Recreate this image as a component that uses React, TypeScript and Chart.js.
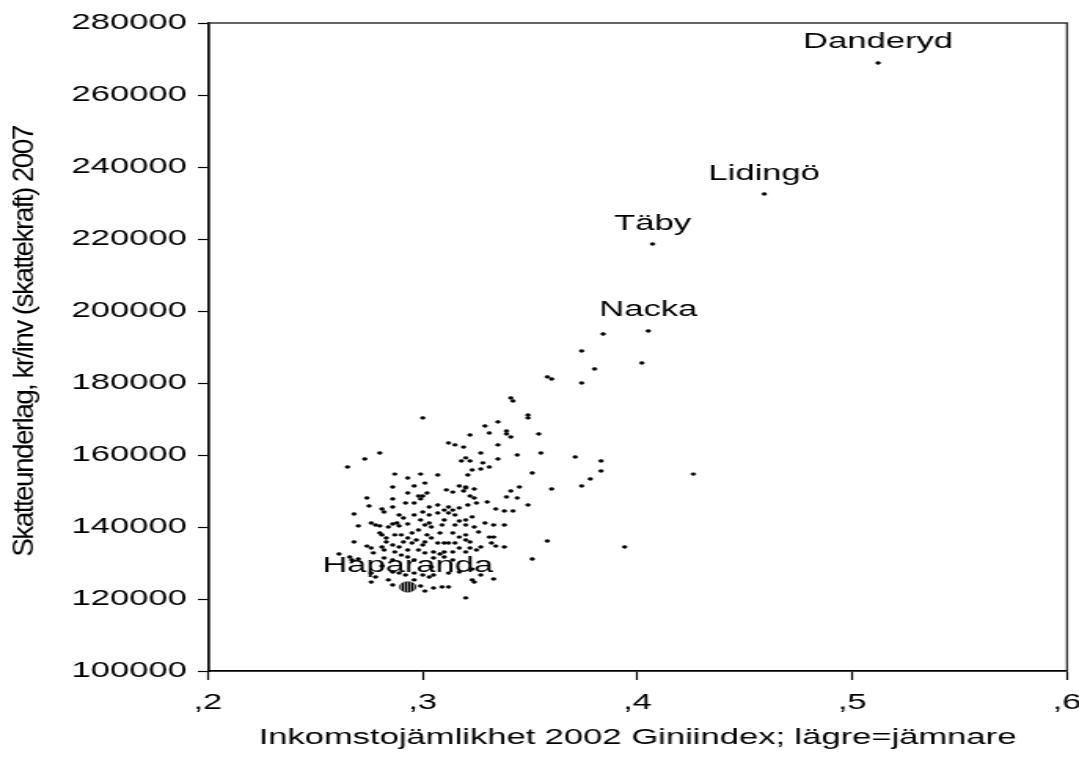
import React, { useEffect, useRef } from 'react';
import { Chart, registerables } from 'chart.js';

Chart.register(...registerables);

// Gini index 2002 (x) and tax base per inhabitant 2007 (y), unlabeled municipalities
const giniX = [
  0.384, 0.374, 0.402, 0.380, 0.358, 0.360, 0.374, 0.341, 0.342, 0.300,
  0.349, 0.349, 0.335, 0.329, 0.322, 0.331, 0.339, 0.339, 0.341, 0.354,
  0.335, 0.312, 0.315, 0.319, 0.327, 0.280, 0.273, 0.265, 0.344, 0.355,
  0.371, 0.383, 0.383, 0.378, 0.374, 0.426, 0.320, 0.318, 0.322, 0.335,
  0.328, 0.327, 0.331, 0.323, 0.321, 0.351, 0.287, 0.293, 0.299, 0.307,
  0.301, 0.296, 0.286, 0.317, 0.320, 0.324, 0.345, 0.360, 0.311, 0.314,
  0.293, 0.302, 0.341, 0.339, 0.344, 0.349, 0.334, 0.338, 0.342, 0.338,
  0.333, 0.358, 0.334, 0.338, 0.394, 0.351, 0.333, 0.320, 0.322, 0.324,
  0.298, 0.300, 0.286, 0.319, 0.320, 0.274, 0.275, 0.281, 0.286, 0.289,
  0.291, 0.296, 0.299, 0.303, 0.268, 0.270, 0.276, 0.278, 0.280, 0.280,
  0.284, 0.286, 0.288, 0.289, 0.293, 0.296, 0.300, 0.303, 0.299, 0.307,
  0.310, 0.312, 0.314, 0.315, 0.317, 0.320, 0.310, 0.309, 0.304, 0.301,
  0.298, 0.295, 0.287, 0.283, 0.281, 0.268, 0.274, 0.276, 0.281, 0.282,
  0.286, 0.289, 0.291, 0.293, 0.295, 0.297, 0.300, 0.301, 0.304, 0.307,
  0.310, 0.312, 0.315, 0.317, 0.320, 0.322, 0.287, 0.290, 0.298, 0.301,
  0.305, 0.308, 0.314, 0.317, 0.322, 0.277, 0.261, 0.266, 0.267, 0.270,
  0.282, 0.286, 0.293, 0.296, 0.305, 0.310, 0.314, 0.327, 0.281, 0.304,
  0.323, 0.276, 0.278, 0.286, 0.289, 0.296, 0.300, 0.305, 0.312, 0.317,
  0.276, 0.284, 0.301, 0.305, 0.309, 0.312, 0.327, 0.324, 0.286, 0.296,
  0.292, 0.307, 0.312, 0.317, 0.321, 0.325, 0.330, 0.282, 0.323, 0.303,
  0.315, 0.320, 0.324, 0.329, 0.333, 0.290, 0.302, 0.308, 0.314, 0.320,
  0.326, 0.331, 0.283, 0.332, 0.293, 0.310, 0.320, 0.325, 0.292, 0.303,
  0.323, 0.299,
];

const taxY = [
  193600, 188900, 185550, 183900, 181700, 181100, 180000, 175850, 175000, 170300,
  171100, 170300, 169200, 168050, 165550, 166100, 166650, 165850, 165000, 165850,
  162800, 163350, 162800, 162200, 160550, 160550, 158900, 156650, 160000, 160550,
  159450, 158350, 155550, 153350, 151400, 154700, 159200, 158350, 158350, 158900,
  157800, 156100, 156650, 155850, 154450, 155000, 154700, 153600, 154700, 154450,
  152200, 151400, 151100, 151400, 151100, 150550, 151100, 150550, 150300, 149700,
  149450, 149450, 150000, 148350, 148050, 146100, 145000, 144450, 144450, 140550,
  137200, 136100, 134700, 134450, 134450, 131100, 125550, 120300, 148600, 148050,
  148600, 148600, 147800, 150000, 150850, 148050, 145850, 145000, 145550, 143350,
  142500, 146650, 147800, 145550, 143600, 140300, 141100, 140550, 140300, 138350,
  140000, 140850, 141100, 140300, 140850, 143350, 144150, 143350, 141950, 143900,
  144700, 143900, 144700, 143350, 141650, 141950, 141950, 140550, 140000, 140550,
  139150, 138350, 137800, 136950, 137800, 135850, 134700, 134150, 134450, 133600,
  135000, 134450, 135850, 136950, 135550, 136400, 135000, 135850, 136950, 135550,
  135550, 135550, 135550, 137200, 136400, 135850, 133050, 132200, 133600, 132800,
  133050, 132500, 133050, 134150, 134150, 132800, 132500, 131650, 130850, 131100,
  131400, 130850, 131650, 130850, 131400, 131650, 130850, 134450, 129150, 128900,
  128300, 127200, 126100, 127500, 127200, 127200, 126650, 126650, 127200, 127500,
  124700, 125300, 122200, 123050, 123350, 123350, 126650, 124700, 123900, 125300,
  146650, 146100, 145550, 145300, 146100, 146650, 146950, 144150, 142800, 141100,
  140550, 140550, 140000, 141100, 140550, 137800, 137800, 138350, 138350, 137800,
  138600, 137200, 135850, 135550, 133600, 133050, 133050, 133600, 126650, 126100,
  125300, 123600,
];

// Labelled municipalities (the last one, Haparanda, has the large marker)
const namedLabels = ['Danderyd', 'Lidingö', 'Täby', 'Nacka', 'Haparanda'];
const namedX = [0.512, 0.459, 0.407, 0.405, 0.293];
const namedY = [268900, 232500, 218600, 194450, 123350];

const xTickLabels = [',2', ',3', ',4', ',5', ',6'];
const yTickLabels = ['100000', '120000', '140000', '160000', '180000', '200000', '220000', '240000', '260000', '280000'];
const xTitle = 'Inkomstojämlikhet 2002 Giniindex; lägre=jämnare';
const yTitle = 'Skatteunderlag, kr/inv (skattekraft) 2007';

const STRETCH = 1.5706;
const W = 700;
const H = 775;
const FONT = "'Liberation Sans', Arial, sans-serif";

export default function App() {
  const ref = useRef<HTMLCanvasElement | null>(null);

  useEffect(() => {
    const canvas = ref.current;
    if (!canvas) return;
    const ctx = canvas.getContext('2d');
    if (!ctx) return;

    const pc = document.createElement('canvas');
    pc.width = 2;
    pc.height = 2;
    const pctx = pc.getContext('2d')!;
    pctx.fillStyle = '#8a8a8a';
    pctx.fillRect(0, 0, 2, 2);
    pctx.fillStyle = '#000';
    pctx.fillRect(0, 0, 1, 2);
    const hatch = ctx.createPattern(pc, 'repeat');

    const mainPts = giniX.map((x, i) => ({ x, y: taxY[i] }));
    for (let i = 0; i < 4; i++) mainPts.push({ x: namedX[i], y: namedY[i] });

    const labelPlugin = {
      id: 'namedLabels',
      afterDatasetsDraw(chart: any) {
        const c = chart.ctx;
        const xs = chart.scales.x;
        const ys = chart.scales.y;
        c.save();
        c.font = `22px ${FONT}`;
        c.fillStyle = '#000';
        c.textAlign = 'center';
        c.textBaseline = 'alphabetic';
        namedLabels.forEach((lab, i) => {
          const px = xs.getPixelForValue(namedX[i]);
          const py = ys.getPixelForValue(namedY[i]);
          c.fillText(lab, px, py - 14.5);
        });
        c.restore();
      },
    };

    const framePlugin = {
      id: 'frame',
      afterDraw(chart: any) {
        const c = chart.ctx;
        const a = chart.chartArea;
        c.save();
        c.strokeStyle = '#333';
        c.lineWidth = 1.4;
        c.beginPath();
        c.moveTo(a.left, a.top);
        c.lineTo(a.right, a.top);
        c.lineTo(a.right, a.bottom);
        c.stroke();
        c.restore();
      },
    };

    const yTitlePlugin = {
      id: 'yTitle',
      afterDraw(chart: any) {
        const c = chart.ctx;
        c.save();
        c.font = `28px ${FONT}`;
        const natural = c.measureText(yTitle).width;
        const n = Array.from(yTitle).length;
        const target = 432;
        (c as any).letterSpacing = `${(target - natural) / (n - 1)}px`;
        c.translate(21.2, 341.5);
        c.rotate(-Math.PI / 2);
        c.scale(1, 0.66);
        c.fillStyle = '#000';
        c.textAlign = 'center';
        c.textBaseline = 'alphabetic';
        c.fillText(yTitle, 0, 0);
        c.restore();
      },
    };

    const chart = new Chart(canvas, {
      type: 'scatter',
      data: {
        datasets: [
          {
            data: mainPts,
            pointStyle: 'circle',
            pointRadius: 1.45,
            pointHoverRadius: 1.45,
            backgroundColor: '#000',
            borderColor: '#000',
            borderWidth: 0.5,
          },
          {
            data: [{ x: namedX[4], y: namedY[4] }],
            pointStyle: 'circle',
            pointRadius: 5.2,
            pointHoverRadius: 5.2,
            backgroundColor: hatch as any,
            borderColor: '#222',
            borderWidth: 0.7,
          },
        ],
      },
      options: {
        responsive: false,
        animation: false,
        events: [],
        layout: { padding: { left: 0, right: W - 679.4, top: 23, bottom: 4 } },
        plugins: {
          legend: { display: false },
          tooltip: { enabled: false },
        },
        scales: {
          x: {
            type: 'linear',
            min: 0.2,
            max: 0.6,
            ticks: {
              stepSize: 0.1,
              autoSkip: false,
              maxRotation: 0,
              padding: 9.5,
              color: '#000',
              font: { family: FONT, size: 22 },
              callback: (v: any) => xTickLabels[Math.round(Number(v) * 10) - 2] ?? '',
            },
            grid: {
              display: true,
              drawOnChartArea: false,
              drawTicks: true,
              tickLength: 9,
              tickColor: '#000',
              tickWidth: 1.2,
            },
            border: { display: true, color: '#000', width: 1.7 },
            title: {
              display: true,
              text: xTitle,
              color: '#000',
              font: { family: FONT, size: 22 },
              padding: { top: 0, bottom: 19.8 },
            },
            afterFit: (s: any) => {
              s.height = 100;
            },
          },
          y: {
            type: 'linear',
            min: 100000,
            max: 280000,
            ticks: {
              stepSize: 20000,
              padding: 7,
              color: '#000',
              font: { family: FONT, size: 22 },
              callback: (v: any) => yTickLabels[Math.round((Number(v) - 100000) / 20000)] ?? '',
            },
            grid: {
              display: true,
              drawOnChartArea: false,
              drawTicks: true,
              tickLength: 6.4,
              tickColor: '#000',
              tickWidth: 1.2,
            },
            border: { display: true, color: '#000', width: 1.7 },
            afterFit: (s: any) => {
              s.width = 132.4;
            },
          },
        },
      },
      plugins: [labelPlugin, framePlugin, yTitlePlugin],
    });

    return () => {
      chart.destroy();
    };
  }, []);

  return (
    <div
      style={{
        position: 'fixed',
        left: 0,
        top: 0,
        width: 1079,
        height: 775,
        overflow: 'hidden',
        background: '#fff',
      }}
    >
      <canvas
        ref={ref}
        width={W}
        height={H}
        style={{
          width: W,
          height: H,
          display: 'block',
          transform: `scaleX(${STRETCH})`,
          transformOrigin: '0 0',
        }}
      />
    </div>
  );
}
